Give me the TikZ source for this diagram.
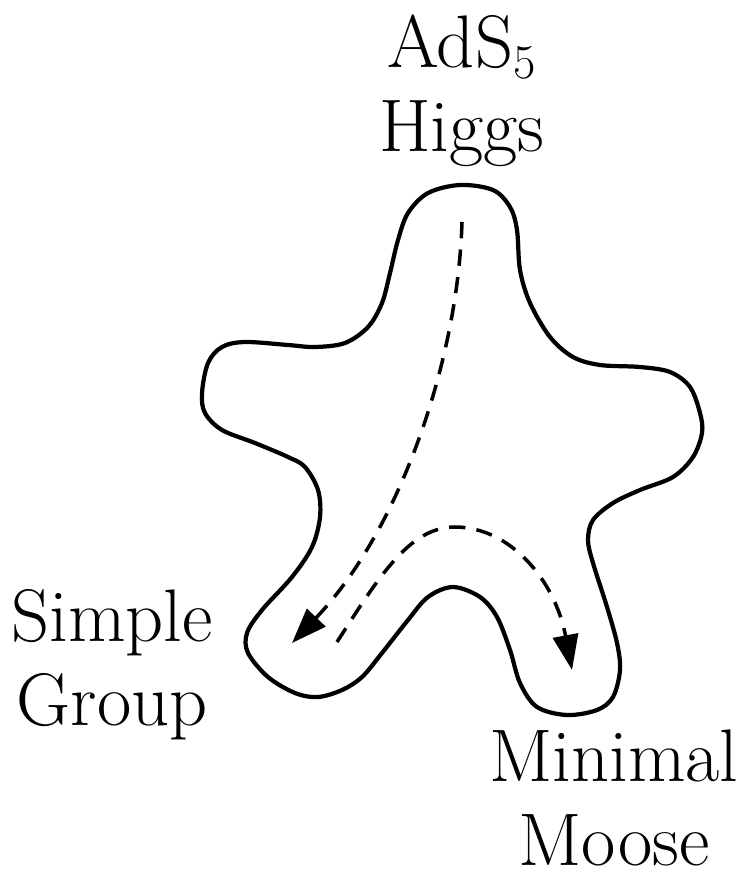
\documentclass[tikz,border=0pt]{standalone}
\usetikzlibrary{arrows.meta}
\begin{document}
\begin{tikzpicture}[
    x=0.0125cm, y=-0.0125cm,
    blob/.style={draw=black, line width=1.5pt, line join=round},
    flow/.style={-{Triangle[length=12.5pt, width=9pt]}, line width=1.25pt, dash pattern=on 5.8pt off 4pt},
    lbl/.style={align=center, inner sep=0pt, font=\fontsize{26.5}{30}\selectfont}
  ]
  \useasboundingbox (0,0) rectangle (744,877);

  % outline of the star shaped region
  \draw[blob] plot[smooth cycle, tension=0.55] coordinates {
    (460,185) (493,190) (510,207) (517,230) (520,270) (530,303) (550,337)
    (573,357) (600,365) (640,367) (670,372) (690,387) (700,413) (702,433)
    (693,457) (673,477) (640,490) (613,503) (593,520) (588,540) (593,563)
    (607,607) (617,643) (620,670) (613,697) (597,710) (567,715) (537,707)
    (520,683) (510,650) (497,617) (480,597) (453,587) (428,597) (408,620)
    (382,653) (362,677) (342,690) (318,697) (295,693) (268,677) (248,653)
    (247,633) (262,610) (292,577) (312,547) (320,517) (318,490) (305,467)
    (288,457) (255,443) (222,430) (205,413) (202,393) (208,363) (222,347)
    (245,342) (288,345) (315,347) (345,343) (368,327) (382,303) (390,273)
    (398,240) (408,213) (428,193)};

  % labels at the three tips
  \node[lbl] (ads) at (462,91) {AdS$_5$\\Higgs};
  \node[lbl] (simple) at (112,665) {Simple\\Group};
  \node[lbl] (moose) at (614,798) {Minimal\\Moose};

  % ends of the flows
  \coordinate (adsend) at (462,222);
  \coordinate (simpleend) at (292,643);
  \coordinate (simplestart) at (337,642);
  \coordinate (mooseend) at (572,670);

  \draw[flow] (adsend) .. controls (458,360) and (400,530) .. (simpleend);
  \draw[flow] (simplestart) .. controls (380,575) and (410,527) .. (455,527)
    .. controls (510,527) and (555,580) .. (mooseend);
\end{tikzpicture}
\end{document}
